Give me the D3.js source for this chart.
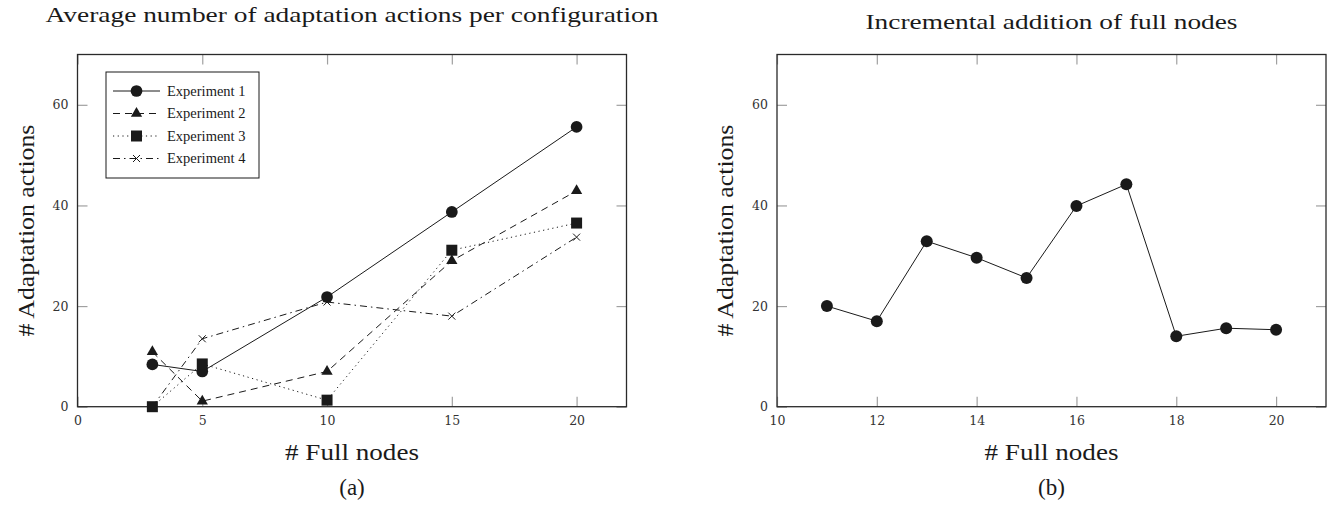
<!DOCTYPE html>
<html>
<head>
<meta charset="utf-8">
<script src="https://cdn.jsdelivr.net/npm/d3@7"></script>
<style>
  body { margin: 0; background: #fff; }
  text { font-family: "Liberation Serif", serif; fill: #1a1a1a; }
  .tick text { font-family: "DejaVu Serif", serif; font-size: 12.5px; fill: #333; }
  .tick line { stroke: #a0a0a0; stroke-width: 1.2; }
  .domain { display: none; }
</style>
</head>
<body>
<svg id="chart" width="1336" height="507"></svg>
<script>
// values
const nodesA = [3, 5, 10, 15, 20];
const exp1 = [8.4, 7.0, 21.8, 38.7, 55.6];
const exp2 = [10.9, 1.1, 7.0, 29.0, 42.9];
const exp3 = [0, 8.5, 1.3, 31.1, 36.5];
const exp4 = [0, 13.5, 20.8, 18.0, 33.7];
const expNames = ["Experiment 1", "Experiment 2", "Experiment 3", "Experiment 4"];

const nodesB = [11, 12, 13, 14, 15, 16, 17, 18, 19, 20];
const actionsB = [20.0, 17.0, 32.9, 29.6, 25.6, 39.9, 44.2, 14.0, 15.6, 15.3];

const xTicksA = [0, 5, 10, 15, 20];
const xTicksB = [10, 12, 14, 16, 18, 20];
const yTicks = [0, 20, 40, 60];

const svg = d3.select("#chart");
const ink = "#1a1a1a";

const styles = [
  { dash: null, symbol: d3.symbolCircle, size: 108 },
  { dash: "7,5", symbol: d3.symbolTriangle, size: 55 },
  { dash: "1.2,3.5", symbol: d3.symbolSquare, size: 121 },
  { dash: "7,4,1.5,4", symbol: "cross", size: 0 }
];

function marker(sel, st) {
  if (st.symbol === "cross") {
    sel.append("path")
      .attr("d", "M-3.5,-3.5L3.5,3.5M-3.5,3.5L3.5,-3.5")
      .attr("stroke", ink).attr("stroke-width", 1).attr("fill", "none");
  } else {
    sel.append("path")
      .attr("d", d3.symbol().type(st.symbol).size(st.size)())
      .attr("fill", ink);
  }
}

function panel(left, xDomain, xTicks, title, titleY, titleLen, tag) {
  const top = 54.5, bottom = 406.7, w = 549;
  const x = d3.scaleLinear().domain(xDomain).range([left, left + w]);
  const y = d3.scaleLinear().domain([0, 70]).range([bottom, top]);

  // ticks on all four sides, pointing inward
  svg.append("g").attr("transform", `translate(0,${bottom})`)
    .call(d3.axisBottom(x).tickValues(xTicks).tickSize(-10).tickPadding(9).tickFormat(d3.format("d")));
  svg.append("g").attr("transform", `translate(0,${top})`)
    .call(d3.axisTop(x).tickValues(xTicks).tickSize(-10).tickFormat(""));
  svg.append("g").attr("transform", `translate(${left},0)`)
    .call(d3.axisLeft(y).tickValues(yTicks).tickSize(-10).tickPadding(9).tickFormat(d3.format("d")));
  svg.append("g").attr("transform", `translate(${left + w},0)`)
    .call(d3.axisRight(y).tickValues(yTicks).tickSize(-10).tickFormat(""));

  svg.append("rect")
    .attr("x", left).attr("y", top).attr("width", w).attr("height", bottom - top)
    .attr("fill", "none").attr("stroke", "#2a2a2a").attr("stroke-width", 1.3);

  svg.append("text")
    .attr("x", left + w / 2).attr("y", titleY)
    .attr("text-anchor", "middle").style("font-size", "22px")
    .attr("textLength", titleLen).attr("lengthAdjust", "spacingAndGlyphs")
    .text(title);
  svg.append("text")
    .attr("x", left + w / 2).attr("y", 460)
    .attr("text-anchor", "middle").style("font-size", "23px")
    .attr("textLength", 134).attr("lengthAdjust", "spacingAndGlyphs")
    .text("# Full nodes");
  svg.append("text")
    .attr("x", left + w / 2).attr("y", 495)
    .attr("text-anchor", "middle").style("font-size", "23px")
    .text(tag);
  svg.append("text")
    .attr("transform", `translate(${left - 44},${(top + bottom) / 2}) rotate(-90)`)
    .attr("text-anchor", "middle").style("font-size", "23px")
    .attr("textLength", 212).attr("lengthAdjust", "spacingAndGlyphs")
    .text("# Adaptation actions");

  return { x, y };
}

// (a)
const a = panel(77.5, [0, 22], xTicksA,
  "Average number of adaptation actions per configuration", 22, 613, "(a)");
[exp1, exp2, exp3, exp4].forEach((vals, i) => {
  const st = styles[i];
  const pts = nodesA.map((n, j) => [a.x(n), a.y(vals[j])]);
  svg.append("path")
    .attr("d", d3.line()(pts))
    .attr("fill", "none").attr("stroke", ink).attr("stroke-width", 1)
    .attr("stroke-dasharray", st.dash);
  pts.forEach(p => {
    marker(svg.append("g").attr("transform", `translate(${p[0]},${p[1]})`), st);
  });
});

// legend
const lg = svg.append("g");
lg.append("rect").attr("x", 106).attr("y", 72).attr("width", 153).attr("height", 106)
  .attr("fill", "#fff").attr("stroke", ink).attr("stroke-width", 1);
expNames.forEach((name, i) => {
  const st = styles[i];
  const yy = 91 + i * 22.5;
  lg.append("line").attr("x1", 113).attr("x2", 160).attr("y1", yy).attr("y2", yy)
    .attr("stroke", ink).attr("stroke-width", 1).attr("stroke-dasharray", st.dash);
  marker(lg.append("g").attr("transform", `translate(136.5,${yy})`), st);
  lg.append("text").attr("x", 167).attr("y", yy + 4.5)
    .style("font-size", "14.5px").text(name);
});

// (b)
const b = panel(777, [10, 21], xTicksB,
  "Incremental addition of full nodes", 29, 372, "(b)");
const ptsB = nodesB.map((n, j) => [b.x(n), b.y(actionsB[j])]);
svg.append("path")
  .attr("d", d3.line()(ptsB))
  .attr("fill", "none").attr("stroke", ink).attr("stroke-width", 1);
svg.selectAll(".dotB").data(ptsB).enter().append("circle")
  .attr("class", "dotB")
  .attr("cx", d => d[0]).attr("cy", d => d[1]).attr("r", 6)
  .attr("fill", ink);
</script>
</body>
</html>
